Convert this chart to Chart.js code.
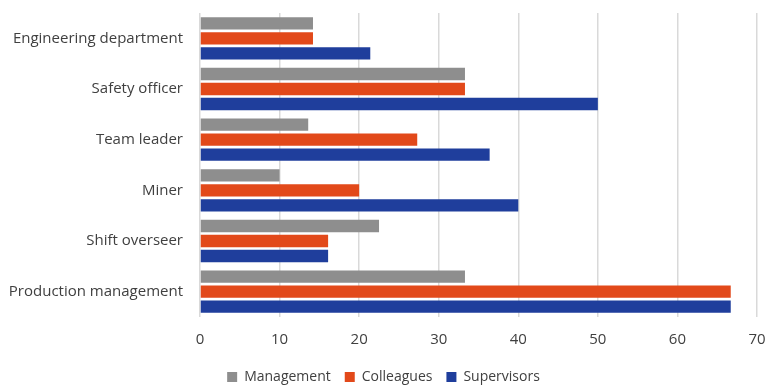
<!DOCTYPE html>
<html>
<head>
<meta charset="utf-8">
<script src="https://cdn.jsdelivr.net/npm/chart.js@4"></script>
<style>
  html, body { margin: 0; padding: 0; background: #fff; }
  #wrap { width: 765px; height: 385px; }
</style>
</head>
<body>
<div id="wrap"><canvas id="myChart" width="765" height="385"></canvas></div>
<script>
var categories = ['Engineering department', 'Safety officer', 'Team leader', 'Miner', 'Shift overseer', 'Production management'];
var management = [14.2, 33.3, 13.6, 10, 22.5, 33.3];
var colleagues = [14.2, 33.3, 27.3, 20, 16.1, 66.7];
var supervisors = [21.4, 50, 36.4, 40, 16.1, 66.7];
var xTicks = [0, 10, 20, 30, 40, 50, 60, 70];

var ctx = document.getElementById('myChart').getContext('2d');
var myChart = new Chart(ctx, {
  type: 'bar',
  data: {
    labels: categories,
    datasets: [{
        label: 'Management',
        data: management,
        backgroundColor: '#8e8e8e',
        categoryPercentage: 0.89,
        barPercentage: 0.82
      }, {
        label: 'Colleagues',
        data: colleagues,
        backgroundColor: '#e2491a',
        categoryPercentage: 0.89,
        barPercentage: 0.82
      }, {
        label: 'Supervisors',
        data: supervisors,
        backgroundColor: '#1f3e9c',
        categoryPercentage: 0.89,
        barPercentage: 0.82
      }
    ]
  },
  options: {
    indexAxis: 'y',
    responsive: false,
    animation: false,
    layout: { padding: { top: 13, right: 8, left: 10, bottom: -9 } },
    plugins: {
      legend: {
        position: 'bottom',
        labels: {
          boxWidth: 10,
          boxHeight: 10,
          padding: 14,
          color: '#404040',
          font: { family: 'Open Sans', size: 14 }
        }
      },
      tooltip: { enabled: false }
    },
    scales: {
      x: {
        min: 0,
        max: 70,
        afterBuildTicks: function (axis) {
          axis.ticks = xTicks.map(function (v) { return { value: v }; });
        },
        afterFit: function (axis) {
          axis.paddingRight = 0;
          axis.paddingLeft = 0;
          axis.height -= 7;
        },
        grid: { color: '#d9d9d9', lineWidth: 1.5, drawTicks: false },
        border: { display: false },
        ticks: {
          padding: 14,
          color: '#404040',
          font: { family: 'Open Sans', size: 15 }
        }
      },
      y: {
        afterFit: function (axis) {
          axis.paddingTop = 0;
          axis.paddingBottom = 0;
          axis.width = 190;
        },
        grid: { display: false, drawTicks: false },
        border: { display: false },
        ticks: {
          padding: 17,
          color: '#404040',
          font: { family: 'Open Sans', size: 15 }
        }
      }
    }
  }
});
</script>
</body>
</html>
